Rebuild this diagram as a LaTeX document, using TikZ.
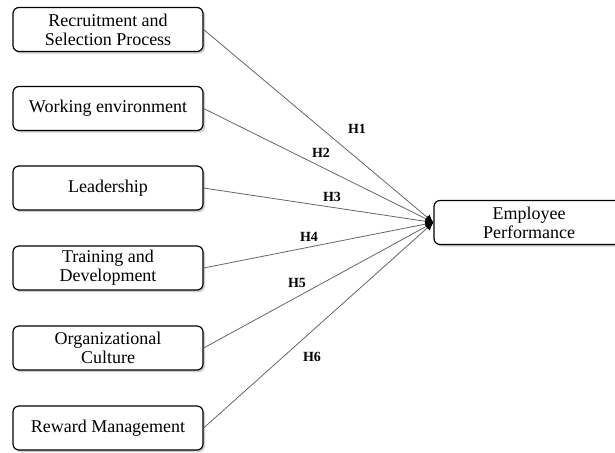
\documentclass[tikz,border=0pt]{standalone}
\usepackage{fontspec}
\setmainfont{Liberation Serif}
\usetikzlibrary{shadows,arrows.meta}

\begin{document}
\begin{tikzpicture}[x=0.5pt,y=-0.5pt,
    factor/.style={draw, line width=0.6pt, rounded corners=3pt, fill=white,
      minimum width=95pt, minimum height=22pt, inner sep=1pt, align=center,
      font=\fontsize{9}{9.5}\selectfont,
      drop shadow={shadow xshift=1pt, shadow yshift=-1pt, opacity=0.4}},
    link/.style={draw=black!60, line width=0.4pt, -{Latex[length=4pt,width=3.5pt,black]}},
    hyp/.style={font=\bfseries\fontsize{7}{8}\selectfont}]
      \clip (0,0) rectangle (615,452);
      % Variaveis independentes
      \node[factor] (rec) at (108,29.5) {Recruitment and\\Selection Process};
      \node[factor] (env) at (108,108.5) {Working environment};
      \node[factor] (lead) at (108,188) {Leadership};
      \node[factor] (train) at (108,268) {Training and\\Development};
      \node[factor] (cult) at (108,348) {Organizational\\Culture};
      \node[factor] (rew) at (108,428) {Reward Management};
      % Variavel dependente
      \node[factor] (perf) at (529,222.5) {Employee\\Performance};

      % Hipoteses
      \draw[link] (rec.east) -- (perf.west);
        \node[hyp] (h1) at (357,129) {H1};
      \draw[link] (env.east) -- (perf.west);
        \node[hyp] (h2) at (321,153) {H2};
      \draw[link] (lead.east) -- (perf.west);
        \node[hyp] (h3) at (332,197) {H3};
      \draw[link] (train.east) -- (perf.west);
        \node[hyp] (h4) at (309,237) {H4};
      \draw[link] (cult.east) -- (perf.west);
        \node[hyp] (h5) at (297,283) {H5};
      \draw[link] (rew.east) -- (perf.west);
        \node[hyp] (h6) at (312,357) {H6};
\end{tikzpicture}
\end{document}
